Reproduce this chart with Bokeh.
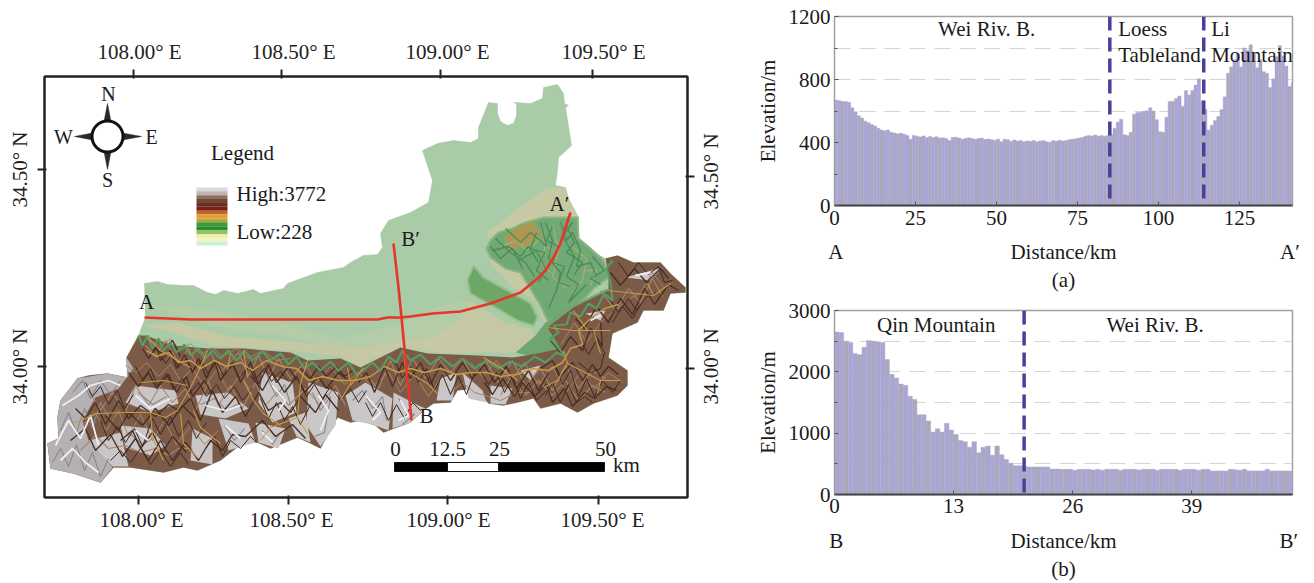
import math
from bokeh.plotting import figure
from bokeh.layouts import row, column
from bokeh.models import Range1d, FixedTicker, LinearAxis, Label, Span
from bokeh.core.properties import value
from bokeh.embed import file_html
from bokeh.resources import INLINE

SERIF = "Liberation Serif"

# ---------- profile data ----------
dist_a = [i + 0.5 for i in range(142)]
elev_a = [670, 665, 660, 660, 655, 620, 595, 570, 555, 535, 525, 515, 505, 490, 480, 475, 480, 465, 460, 455,
          458, 452, 445, 420, 445, 440, 435, 442, 430, 438, 432, 436, 428, 430, 425, 412, 432, 434, 428, 420,
          425, 430, 426, 420, 425, 428, 420, 422, 418, 415, 420, 405, 420, 418, 408, 416, 410, 412, 405, 410,
          408, 412, 404, 410, 412, 405, 402, 412, 408, 415, 410, 412, 418, 420, 424, 428, 432, 440, 445, 442,
          448, 440, 445, 440, 445, 450, 490, 530, 548, 450, 445, 465, 580, 590, 592, 598, 602, 620, 600, 545,
          468, 465, 560, 660, 662, 680, 695, 630, 730, 702, 730, 765, 805, 665, 610, 480, 510, 540, 565, 610,
          690, 840, 880, 925, 965, 880, 1000, 985, 1020, 960, 875, 925, 850, 840, 750, 805, 945, 1015, 950, 885,
          755, 780]
dist_b = [i * 0.5 + 0.25 for i in range(100)]
elev_b = [2650, 2640, 2500, 2480, 2300, 2280, 2400, 2510, 2500, 2490, 2480, 2200, 1960, 1900, 1800, 1780, 1600, 1550, 1300, 1300,
          1200, 1020, 1070, 1020, 1160, 1050, 980, 880, 860, 770, 860, 680, 770, 790, 640, 790, 650, 570, 510, 470,
          470, 455, 450, 450, 450, 450, 450, 415, 415, 410, 410, 410, 395, 410, 410, 410, 400, 410, 395, 410,
          410, 410, 395, 410, 410, 410, 400, 410, 410, 410, 395, 410, 410, 410, 410, 395, 410, 410, 410, 395,
          410, 410, 385, 385, 385, 385, 410, 405, 395, 410, 385, 385, 385, 385, 410, 385, 385, 385, 385, 385]
yticks_a = [0, 400, 800, 1200]
yminor_a = [200, 600, 1000]
xticks_a = [0, 25, 50, 75, 100, 125]
grid_a = [600, 800, 1000]
yticks_b = [0, 1000, 2000, 3000]
yminor_b = [500, 1500, 2500]
xticks_b = [0, 13, 26, 39]
grid_b = [500, 1000, 1500, 2000, 2500]
bound_a = [85, 114]
bound_b = [20.7]

# ---------- map data (map grid units) ----------
region = [(144,283),(157,281),(167,284),(183,285),(193,285),(207,292),(215,294),(223,290),(237,293),(253,289),(260,293),(283,288),(287,283),(317,272),(343,267),(350,262),(363,255),(377,254),(382,247),(380,233),(388,220),(410,212),(428,202),(432,180),(422,150),(437,143),(453,140),(470,142),(478,138),(478,127),(488,102),(497,103),(497,113),(500,121),(507,125),(513,123),(516,115),(516,103),(513,102),(530,103),(542,98),(543,87),(557,84),(563,93),(564,103),(568,105),(565,107),(571,145),(558,157),(557,170),(555,185),(565,187),(568,198),(578,217),(577,238),(593,252),(605,258),(617,255),(633,262),(660,262),(670,273),(685,287),(685,292),(670,293),(663,310),(643,310),(637,322),(612,333),(608,357),(627,370),(627,385),(617,395),(593,403),(577,412),(560,403),(540,408),(533,398),(517,402),(503,405),(488,403),(480,393),(473,388),(457,390),(450,402),(433,403),(423,410),(410,422),(383,432),(375,425),(360,420),(350,422),(337,417),(320,448),(310,443),(297,437),(270,448),(257,442),(243,442),(220,460),(197,470),(183,467),(163,472),(130,467),(113,467),(100,482),(73,473),(50,468),(47,443),(58,438),(57,417),(60,400),(77,378),(88,375),(107,373),(127,377),(126,357),(138,335),(145,317)]
mountains = [(138,335),(145,335),(173,345),(207,348),(243,348),(290,352),(307,360),(340,358),(360,367),(380,357),(400,347),(427,353),(477,355),(513,357),(537,353),(560,348),(547,327),(573,307),(608,290),(608,273),(605,258),(617,255),(633,262),(660,262),(670,273),(685,287),(685,292),(670,293),(663,310),(643,310),(637,322),(612,333),(608,357),(627,370),(627,385),(617,395),(593,403),(577,412),(560,403),(540,408),(533,398),(517,402),(503,405),(488,403),(480,393),(473,388),(457,390),(450,402),(433,403),(423,410),(410,422),(383,432),(375,425),(360,420),(350,422),(337,417),(320,448),(310,443),(297,437),(270,448),(257,442),(243,442),(220,460),(197,470),(183,467),(163,472),(130,467),(113,467),(100,482),(73,473),(50,468),(47,443),(58,438),(57,417),(60,400),(77,378),(88,375),(107,373),(127,377),(126,357)]
piedmont = [(145,305),(170,312),(210,325),(280,335),(360,352),(380,357),(400,347),(427,353),(470,354),(485,335),(472,300),(440,305),(400,322),(380,328),(340,338),(280,322),(200,308)]
piedmont_inner = [(143,325),(175,333),(210,345),(290,350),(340,356),(360,366),(385,352),(402,345),(430,350),(470,352),(520,352),(540,345),(530,328),(505,322),(470,300),(460,320),(430,337),(400,341),(360,348),(300,342),(230,336),(175,322)]
li_fan = [(487,232),(500,222),(525,202),(545,188),(565,187),(568,198),(578,217),(577,238),(593,252),(605,258),(608,277),(590,292),(565,315),(545,323),(535,300),(510,285),(490,262)]
li_mountain = [(490,257),(486,248),(490,240),(498,232),(512,228),(525,222),(543,217),(577,217),(578,238),(590,248),(603,260),(608,277),(593,288),(587,295),(567,313),(547,320),(540,305),(528,285),(520,272),(505,268)]
li_ochre = [(505,236),(520,226),(533,222),(540,235),(527,244),(510,248)]
foot_green = [(515,352),(535,335),(545,322),(570,306),(607,288),(610,300),(590,315),(570,335),(560,350),(540,358)]
bailu = [(467,280),(473,265),(483,277),(507,290),(530,303),(537,317),(533,325),(517,320),(497,308),(470,293)]
grey_west = [(47,443),(58,438),(57,417),(60,400),(77,378),(107,373),(127,377),(126,357),(133,368),(118,388),(95,397),(82,420),(88,440),(100,452),(112,467),(100,482),(73,473),(50,468)]
grey_peaks = [
    [(135,385),(175,390),(178,403),(150,412),(125,402)],
    [(120,425),(150,428),(165,445),(150,455),(125,447)],
    [(195,395),(228,392),(248,408),(225,418),(200,414)],
    [(262,372),(292,382),(296,412),(272,422),(258,402)],
    [(308,382),(338,392),(335,425),(320,446),(306,425)],
    [(218,418),(248,423),(255,442),(228,450)],
    [(255,422),(285,428),(278,448),(258,442)],
    [(288,418),(305,412),(310,442),(296,436)],
    [(462,372),(482,390),(486,402),(468,398)],
    [(345,395),(365,382),(392,398),(388,430),(372,424),(352,420)],
    [(393,392),(418,405),(425,408),(410,422),(392,428)],
    [(490,385),(512,388),(505,404),(490,403)],
    [(520,370),(540,365),(530,380)],
    [(585,313),(605,310),(600,320)],
    [(625,277),(662,267),(650,280)],
    [(192,428),(212,438),(212,464),(190,460)],
    [(88,440),(120,432),(128,466),(112,466)],
    [(440,378),(456,372),(452,400),(436,400)],
]
dark_ridges = [
    [(142,348),(148,358),(156,346),(160,360),(170,350),(176,368),(184,354),(192,372),(198,358),(206,378),(214,360),(220,380),(232,362),(240,382),(250,362),(258,384),(268,364),(276,382),(288,366),(296,380)],
    [(128,372),(138,386),(148,372),(156,388),(168,374),(176,392),(186,376),(192,396),(204,380),(212,394)],
    [(75,408),(85,418),(95,402),(105,424),(118,400),(128,418),(140,405),(155,416),(168,404),(178,410),(190,398),(200,420),(212,390),(222,412),(235,396),(245,416),(258,392),(268,410),(280,402),(290,412),(300,396),(315,412),(325,394),(338,410)],
    [(70,440),(85,428),(95,450),(110,434),(122,456),(135,438),(148,460),(160,440),(172,460),(185,442),(198,460),(210,440),(222,450),(232,434),(245,436),(262,420),(275,436),(292,424),(305,438)],
    [(250,375),(262,390),(272,372),(284,392),(296,376),(304,392),(318,376),(326,388),(338,372),(350,382)],
    [(300,368),(310,378),(318,366),(326,376),(336,366),(344,376),(352,370)],
    [(358,382),(366,372),(374,392),(384,366),(392,386),(402,362),(410,378),(420,362),(430,384),(440,364),(450,380),(462,362),(472,378),(484,364),(494,382),(506,366),(516,388),(528,370),(538,390),(548,372)],
    [(484,382),(492,394),(502,378),(514,396),(522,382),(534,396),(546,384),(552,402),(564,388),(572,406),(584,392),(594,398),(606,386),(616,390)],
    [(540,368),(552,360),(560,376),(572,362),(582,380),(592,364),(600,376),(608,366),(618,374)],
    [(575,318),(584,328),(596,306),(608,322),(620,298),(632,314),(644,288),(654,304),(668,284),(678,290)],
    [(610,272),(620,285),(634,268),(646,282),(660,268),(668,278)],
    [(550,340),(560,352),(570,336),(582,350),(590,328),(602,346),(600,322)],
    [(150,345),(160,352),(172,340),(180,356)],
    [(120,440),(132,430),(140,448),(152,432),(162,452),(172,436),(186,452)],
    [(105,415),(118,430),(128,412),(142,425),(155,408),(168,425),(182,405),(195,418)],
]
fine_dark = [
    [(160,355),(165,363),(172,354),(178,367),(186,358),(192,371),(201,360),(207,373),(216,362),(223,375),(232,365),(239,377),(248,366),(255,379),(264,368),(271,381),(280,371),(288,381)],
    [(135,366),(142,379),(150,368),(157,385),(166,373),(173,389),(182,378),(189,393),(198,382),(206,396),(216,384),(224,398),(234,386),(242,400),(252,388)],
    [(85,382),(92,396),(100,386),(108,404),(117,390),(124,408),(133,394)],
    [(100,420),(108,440),(117,426),(125,442),(134,428),(142,446),(152,418),(160,434),(170,416),(178,436),(188,420),(196,438),(206,422)],
    [(110,460),(120,450),(130,462),(140,448),(150,464),(160,450),(170,466),(180,452),(188,464)],
    [(205,448),(214,436),(222,456),(230,440),(240,448),(250,436),(256,442)],
    [(260,398),(268,418),(276,402),(284,420),(292,406),(300,424),(310,404)],
    [(300,382),(306,396),(314,384),(322,398),(330,386),(340,400),(350,388),(358,402),(366,390)],
    [(365,402),(372,416),(380,402),(388,420),(396,404),(404,418),(412,402),(420,410)],
    [(395,362),(402,378),(410,366),(418,382),(426,368),(434,390),(442,374),(450,394),(458,376),(466,394),(474,372)],
    [(480,370),(488,384),(496,372),(504,392),(512,376),(520,398),(528,382),(536,400),(546,390)],
    [(555,368),(562,384),(570,370),(578,396),(586,378),(594,396),(602,380),(612,392),(620,380)],
    [(545,395),(552,382),(560,402),(568,384),(576,402),(584,396),(592,402)],
    [(580,340),(588,354),(596,340),(604,352),(600,368),(590,372),(578,362)],
    [(610,300),(618,312),(628,298),(636,310),(646,296),(656,292)],
    [(618,262),(628,276),(638,262),(648,274),(658,266),(664,282),(672,280)],
    [(612,322),(622,306),(632,318),(640,304)],
]
fine_tan = [
    [(150,340),(160,346),(170,338),(180,350),(190,343),(200,354),(212,347),(222,356),(236,348),(248,358),(262,350),(276,360),(290,358)],
    [(125,365),(136,372),(146,362),(158,376),(170,364),(180,380),(192,368),(204,386),(216,370),(228,390),(240,374),(252,394)],
    [(82,425),(94,412),(106,430),(118,410),(128,436),(140,414),(152,440),(164,420),(176,444),(190,426),(204,444),(218,430)],
    [(292,375),(304,362),(316,382),(330,366),(344,384),(358,372),(372,386),(388,372),(400,392),(414,374),(428,396),(444,372)],
    [(470,362),(482,376),(496,360),(510,380),(524,362),(538,384),(552,366),(566,392),(580,372),(594,388),(608,372),(622,382)],
    [(560,345),(574,322),(586,342),(600,322),(612,312),(626,300),(640,292),(652,272),(664,288)],
    [(450,392),(462,382),(474,392),(488,396),(500,400),(516,392),(530,392)],
]
grey_strokes = [
    [(52,462),(60,448),(68,466),(76,444),(84,470),(92,452),(100,476),(108,458)],
    [(60,430),(68,412),(76,432),(84,408),(92,428),(100,402),(110,420)],
    [(72,392),(82,380),(90,398),(100,380),(110,394),(120,380)],
    [(268,380),(276,396),(284,384),(290,404)],
    [(312,392),(320,410),(330,396),(324,432),(314,436)],
    [(352,400),(362,390),(372,408),(382,396),(386,420)],
    [(398,398),(406,412),(414,414),(402,424)],
    [(224,425),(234,440),(244,428)],
    [(262,430),(272,444),(280,432)],
    [(200,404),(214,398),(226,410),(240,402)],
    [(138,392),(152,404),(166,396)],
    [(128,432),(142,444),(156,436)],
]
light_ridges = [
    [(145,345),(155,355),(165,340),(178,362),(188,348),(198,368),(210,352),(220,372),(238,352),(248,375),(258,355),(268,378),(278,358),(290,378),(302,365)],
    [(88,390),(100,410),(112,392),(125,412),(135,385),(148,405),(160,385),(172,402),(185,388),(195,410),(208,382),(218,405),(230,385),(242,408),(255,382),(265,405),(278,390),(288,405),(305,388),(320,405),(335,385),(345,405)],
    [(365,375),(378,388),(390,360),(400,385),(412,358),(425,378),(438,358),(450,372),(462,358),(473,378),(485,360),(498,382),(512,360),(525,385),(540,368),(552,390),(565,365),(578,388),(592,370),(605,378)],
    [(600,290),(615,310),(628,288),(640,302),(652,278),(662,296)],
    [(80,450),(95,435),(108,448),(125,445),(140,452),(155,448),(168,455),(178,448),(192,448)],
    [(500,395),(510,378),(525,395),(538,380),(552,395),(565,380),(578,400),(592,385),(605,392)],
]
white_ridges = [
    [(55,445),(68,420),(80,438),(90,415),(98,445)],
    [(62,405),(78,395),(90,385),(108,380),(120,385)],
    [(60,460),(72,448),(85,462),(98,472)],
    [(135,395),(150,408),(170,398)],
    [(205,405),(225,410),(240,405)],
    [(272,385),(285,400),(278,410)],
    [(318,395),(328,410),(320,430)],
    [(365,395),(380,412),(372,420)],
    [(400,400),(408,415),(398,420)],
    [(135,430),(148,440)],
    [(225,425),(240,438)],
    [(262,432),(272,442)],
    [(600,315),(590,320)],
    [(635,275),(650,272)],
]
rivers = [
    [(72,423),(97,413),(127,412),(150,412),(165,417),(177,410),(190,387),(197,373),(207,350)],
    [(150,412),(152,437),(163,460)],
    [(180,413),(183,443),(197,457)],
    [(193,410),(200,427),(220,443)],
    [(243,380),(253,400),(263,413),(280,425)],
    [(307,360),(300,383),(297,417),(307,433)],
    [(297,417),(270,427),(260,440)],
    [(230,353),(227,370)],
    [(243,350),(247,377)],
    [(187,385),(163,380),(140,382)],
    [(147,337),(160,350),(190,367)],
    [(347,367),(350,383),(340,400)],
    [(363,367),(350,385)],
    [(403,350),(405,370),(427,383),(437,393)],
    [(483,357),(500,367),(517,380)],
    [(563,350),(567,363),(600,380),(620,380)],
    [(567,363),(557,380),(543,387)],
    [(600,380),(597,393)],
    [(547,327),(573,330),(610,330)],
    [(573,310),(587,330)],
    [(593,330),(600,353)],
    [(608,290),(653,295),(670,283)],
    [(653,295),(647,283)],
]
rim_comb = [(138,335),(142,345),(147,335),(152,348),(158,338),(163,350),(170,342),(176,352),(184,344),(190,355),(198,348),(205,358),(212,350),(220,358),(228,350),(236,360),(244,350),(252,360),(262,351),(270,360),(280,353),(288,364),(296,356),(304,368),(312,362),(320,370),(330,361),(338,370),(348,362),(356,374),(365,368),(372,362),(380,370),(388,356),(396,362),(402,350),(410,360),(420,354),(430,364),(440,356),(452,366),(462,358),(474,368),(486,360),(498,368),(510,361),(522,366),(534,356),(545,362),(556,352),(565,356),(550,338),(558,332),(553,325),(566,324),(570,312),(580,316),(588,303),(596,308),(604,293),(612,300),(610,282),(606,268),(612,260)]
rim_ochre = [(146,350),(156,356),(168,352),(178,362),(190,360),(200,368),(214,360),(226,366),(240,362),(252,370),(266,360),(282,366),(296,368),(308,380),(322,376),(338,380),(354,380),(370,376),(384,366),(398,372),(410,368),(424,372),(440,368),(456,374),(470,372),(486,372),(500,376),(516,374),(532,368),(548,370),(562,362),(570,348),(582,344),(578,330),(590,318),(604,308),(618,304)]
li_strokes = [
    [(492,250),(508,246),(520,256),(528,246),(538,262)],
    [(495,238),(510,252),(525,262),(534,276)],
    [(505,228),(520,242),(530,232),(546,246),(540,222)],
    [(545,222),(552,240),(548,258),(560,272),(556,290),(548,308)],
    [(560,222),(566,240),(572,232),(580,250),(576,266),(590,262),(596,276)],
    [(572,222),(562,236),(574,256),(566,276),(578,284),(568,302),(586,284)],
    [(518,260),(536,250),(545,268),(538,282)],
    [(592,256),(604,270),(590,278),(600,284)],
    [(490,246),(500,258),(512,248),(522,268)],
    [(536,232),(530,248),(544,252),(536,270),(548,280)],
    [(552,226),(546,240),(558,246),(552,262),(564,266),(558,282),(570,286)],
    [(566,226),(574,242),(566,252),(582,262),(574,274)],
]
li_light = [
    [(500,246),(516,240),(526,250),(538,240),(552,250)],
    [(552,224),(558,250),(552,276),(566,288)],
    [(570,245),(586,258),(582,280),(572,292)],
    [(540,225),(545,245),(540,262),(550,272)],
    [(584,270),(596,270),(590,285)],
]
red_a = [(144,317),(190,319),(360,319),(377,319),(387,317),(400,317),(410,316),(432,313),(460,311),(490,303),(520,292),(537,278),(545,270),(553,257),(560,243),(565,227),(570,212)]
red_b = [(393,243),(398,287),(401,317),(411,420)]
legend_colors = ["#dcd9dc","#bdb5b2","#8e6e5c","#6e4a36","#6a2f22","#7c1f17","#c0622a","#e0a030","#b9a53c","#3f9a3c","#2f8c35","#8fc468","#eef0a8","#f2f5c0","#c8efd8"]
# tick marks (the graticule is curved, so each side has its own positions)
ticks_bottom = {138:"", 288:"", 447:"", 598:""}
ticks_top = {133:"", 281:"", 440:"", 592:""}
yticks_left = {169:"34.50\u00b0 N", 366:"34.00\u00b0 N"}
ticks_right = {176:"", 368:""}
# labels as placed in the reference, set a little apart from the ticks
xlabels_bottom = {141:"108.00\u00b0 E", 291:"108.50\u00b0 E", 448:"109.00\u00b0 E", 602:"109.50\u00b0 E"}
xlabels_top = {139:"108.00\u00b0 E", 293:"108.50\u00b0 E", 447:"109.00\u00b0 E", 603:"109.50\u00b0 E"}
ylabels_right = {209:"34.50\u00b0 N", 404:"34.00\u00b0 N"}
scale_labels = ["0", "12.5", "25", "50"]

def xs(pts): return [q[0] for q in pts]
def ys(pts): return [q[1] for q in pts]
def lines(f, group, **kw):
    f.multi_line([xs(p) for p in group], [ys(p) for p in group], **kw)

# ---------- map ----------
m = figure(width=750, height=575, x_range=Range1d(44, 687), y_range=Range1d(497, 76),
           output_backend="svg", toolbar_location=None, min_border_left=44, min_border_right=63,
           min_border_top=76, min_border_bottom=78, x_axis_location=None, y_axis_location=None)
m.grid.visible = False
m.outline_line_color = "#222222"
m.outline_line_width = 2

def style_axis(ax, ticks, standoff, orient=None):
    ax.ticker = FixedTicker(ticks=list(ticks))
    ax.major_label_overrides = ticks
    ax.major_tick_out = 7
    ax.major_tick_in = 2
    ax.minor_tick_out = 0
    ax.minor_tick_in = 0
    ax.major_tick_line_color = "#222222"
    ax.major_tick_line_width = 2
    ax.axis_line_color = "#222222"
    ax.axis_line_width = 2
    ax.major_label_text_font = SERIF
    ax.major_label_text_font_size = "21px"
    ax.major_label_text_color = "#222222"
    ax.major_label_standoff = standoff
    if orient is not None:
        ax.major_label_orientation = orient

style = [(LinearAxis(), "below", ticks_bottom, 0, None), (LinearAxis(), "above", ticks_top, 0, None),
         (LinearAxis(), "left", yticks_left, 6, "parallel"), (LinearAxis(), "right", ticks_right, 0, None)]
for ax, side, t, st, o in style:
    style_axis(ax, t, st, o)
    m.add_layout(ax, side)
# label-only axes
for t, side, st, o, out in [(xlabels_bottom, "below", 3, None, 0), (xlabels_top, "above", 6, None, 0),
                            (ylabels_right, "right", 9, math.pi / 2, 7)]:
    lab = LinearAxis()
    style_axis(lab, t, st, o)
    lab.axis_line_color = None
    lab.major_tick_line_color = None
    lab.major_tick_out = out
    lab.major_tick_in = 0
    m.add_layout(lab, side)

m.patch(xs(region), ys(region), fill_color="#aacba8", line_color="#a5c5a2", line_width=0.5)
m.patch(xs(piedmont), ys(piedmont), fill_color="#b7cca6", line_color=None, fill_alpha=0.8)
m.patch(xs(piedmont_inner), ys(piedmont_inner), fill_color="#cbc8a2", line_color=None, fill_alpha=0.8)
m.patch(xs(li_fan), ys(li_fan), fill_color="#c5caa5", line_color=None)
m.patch(xs(li_mountain), ys(li_mountain), fill_color="#70a975", line_color="#8cb482", line_width=2)
m.patch(xs(li_ochre), ys(li_ochre), fill_color="#b39553", line_color="#9aa05a", line_width=3)
lines(m, li_light, line_color="#a9ad70", line_width=1.3)
lines(m, li_strokes, line_color="#4a8a58", line_width=1.3)
m.patch(xs(bailu), ys(bailu), fill_color="#6ca768", line_color="#94bf86", line_width=2)
m.patch(xs(foot_green), ys(foot_green), fill_color="#6fa56e", line_color=None)
m.patch(xs(mountains), ys(mountains), fill_color="#7b5a48", line_color=None)
m.patch(xs(grey_west), ys(grey_west), fill_color="#b4b0b4", line_color=None)
m.patches([xs(p) for p in grey_peaks], [ys(p) for p in grey_peaks], fill_color="#c9c6c8", line_color=None)
lines(m, grey_strokes, line_color="#8b8689", line_width=1.1)
lines(m, light_ridges, line_color="#a9866a", line_width=1.1)
lines(m, fine_tan, line_color="#a88660", line_width=1.0)
lines(m, dark_ridges, line_color="#4a2f24", line_width=1.4)
lines(m, fine_dark, line_color="#3f2820", line_width=1.0)
lines(m, white_ridges, line_color="#f0eff1", line_width=1.8)
m.line(xs(rim_ochre), ys(rim_ochre), line_color="#c79a48", line_width=1.5)
m.line(xs(rim_comb), ys(rim_comb), line_color="#559c60", line_width=2.2)
lines(m, rivers, line_color="#c79b45", line_width=1.1)
m.line(xs(red_a), ys(red_a), line_color="#e8352a", line_width=2.6)
m.line(xs(red_b), ys(red_b), line_color="#e8352a", line_width=2.6)

# legend swatch (map grid units)
n = len(legend_colors)
sw_top, sw_h = 187, 58
m.quad(left=196, right=227,
       top=[sw_top + sw_h * i / n for i in range(n)],
       bottom=[sw_top + sw_h * (i + 1) / n for i in range(n)],
       fill_color=legend_colors, line_color=None)

def mtext(x, y, s, align="center", size="21px"):
    m.text([x], [y], text=[s], text_align=align, text_baseline="middle",
           text_font=value(SERIF), text_font_size=size, text_color="#1a1a1a")

mtext(242, 152, "Legend")
mtext(236, 193, "High:3772", "left")
mtext(236, 231, "Low:228", "left")
mtext(146, 301, "A")
mtext(559, 203, "A\u2032")
mtext(410, 238, "B\u2032")
mtext(426, 415, "B")

# compass
for tip, b1, b2 in [((107,103),(103.5,121),(110.5,121)), ((107,169),(103.5,151),(110.5,151)),
                    ((74,136),(92,132.5),(92,139.5)), ((141,136),(122,132.5),(122,139.5))]:
    m.patch([tip[0], b1[0], b2[0]], [tip[1], b1[1], b2[1]], fill_color="#2a2a2a", line_color="#2a2a2a", line_width=0.5)
m.scatter([107], [136], size=31, fill_color="white", line_color="#111111", line_width=3)
mtext(108, 93, "N", size="20px"); mtext(107, 179, "S", size="20px")
mtext(63, 136, "W", size="20px"); mtext(151, 136, "E", size="20px")

# scale bar
m.quad(left=[394, 447, 498], right=[447, 498, 604], top=[462]*3, bottom=[471]*3,
       fill_color=["#000000", "#ffffff", "#000000"], line_color="#111111", line_width=1)
for x0, s in zip([395, 447, 499, 605], scale_labels):
    mtext(x0, 448, s)
mtext(626, 464, "km")

# ---------- profiles ----------
def profile(x, y, xmax, ymax, xt, yt, ym, g, h, top, bottom, width_bar, bounds, labels, ends, caption, st1, st2, st3):
    f = figure(width=556, height=h, x_range=Range1d(0, xmax), y_range=Range1d(0, ymax),
               output_backend="svg", toolbar_location=None, min_border_left=84, min_border_right=14,
               min_border_top=top, min_border_bottom=bottom)
    f.xgrid.visible = False
    f.ygrid.ticker = FixedTicker(ticks=g)
    f.ygrid.grid_line_color = "#d4d4d4"
    f.ygrid.grid_line_dash = "16 9"
    f.ygrid.grid_line_width = 1.2
    f.outline_line_color = "#a0a0a0"
    f.outline_line_width = 1.5
    colors = ["#aaa6d2", "#aba7cf", "#aaa8bc", "#aaa6d2", "#a9a5d4", "#aaa8c0"]
    cols = [colors[i % 6] for i in range(len(x))]
    f.vbar(x=x, top=y, width=width_bar, bottom=0, line_color=cols, line_width=0.4, fill_color=cols)
    for b in bounds:
        f.add_layout(Span(location=b, dimension="height", line_color="#4a3f9a", line_width=3.5, line_dash="14 7"))
    f.xaxis.ticker = FixedTicker(ticks=xt)
    f.yaxis.ticker = FixedTicker(ticks=yt, minor_ticks=ym)
    for ax in (f.xaxis[0], f.yaxis[0]):
        ax.major_tick_in = 4
        ax.major_tick_out = 0
        ax.minor_tick_out = 0
        ax.major_tick_line_color = "#555555"
        ax.major_label_text_font = SERIF
        ax.major_label_text_font_size = "21px"
        ax.major_label_text_color = "#1a1a1a"
    f.xaxis.minor_tick_in = 0
    f.yaxis.minor_tick_in = 3
    f.yaxis.minor_tick_line_color = "#555555"
    f.xaxis.axis_line_color = "#444444"
    f.xaxis.axis_line_width = 2
    f.yaxis.axis_line_color = "#a0a0a0"
    f.yaxis.axis_label = "Elevation/m"
    f.yaxis.axis_label_text_font = SERIF
    f.yaxis.axis_label_text_font_size = "21px"
    f.yaxis.axis_label_text_font_style = "normal"
    f.yaxis.axis_label_text_color = "#1a1a1a"
    f.yaxis.axis_label_standoff = 6
    f.xaxis.major_label_standoff = st1
    f.yaxis.major_label_standoff = 4
    # second row below the ticks: end letters, the axis title, then the panel caption
    row2 = LinearAxis(ticker=FixedTicker(ticks=list(ends)), major_label_overrides=ends,
                      axis_label=caption, axis_line_color=None, major_tick_line_color=None,
                      minor_tick_line_color=None, major_label_text_font=SERIF,
                      major_label_text_font_size="21px", major_label_text_color="#1a1a1a",
                      major_label_standoff=st2, axis_label_text_font=SERIF,
                      axis_label_text_font_size="21px", axis_label_text_font_style="normal",
                      axis_label_text_color="#1a1a1a", axis_label_standoff=st3)
    f.add_layout(row2, "below")
    for lx, ly, s, al in labels:
        f.add_layout(Label(x=lx, y=ly, text=s, text_align=al, text_baseline="middle", text_font=SERIF,
                           text_font_size="21px", text_color="#1a1a1a"))
    return f

labels_a = [(47, 1121, "Wei Riv. B.", "center"), (87.6, 1121, "Loess", "left"), (87.6, 956, "Tableland", "left"),
            (116.3, 1121, "Li", "left"), (116.3, 956, "Mountain", "left")]
labels_b = [(11.1, 2758, "Qin Mountain", "center"), (35, 2758, "Wei Riv. B.", "center")]
ends_a = {0.4: "A", 70.7: "Distance/km", 140.6: "A\u2032"}
ends_b = {0.2: "B", 25: "Distance/km", 49.6: "B\u2032"}
a = profile(dist_a, elev_a, 141.4, 1200, xticks_a, yticks_a, yminor_a, grid_a, 294, 16, 89, 1.0, bound_a, labels_a, ends_a, "(a)", 5, 6, 1)
b = profile(dist_b, elev_b, 50, 3000, xticks_b, yticks_b, yminor_b, grid_b, 289, 16, 87, 0.5, bound_b, labels_b, ends_b, "(b)", 4, 7, 1)

page = row(m, column(a, b, spacing=0), spacing=0)
open("out.html", "w").write(file_html(page, INLINE))
